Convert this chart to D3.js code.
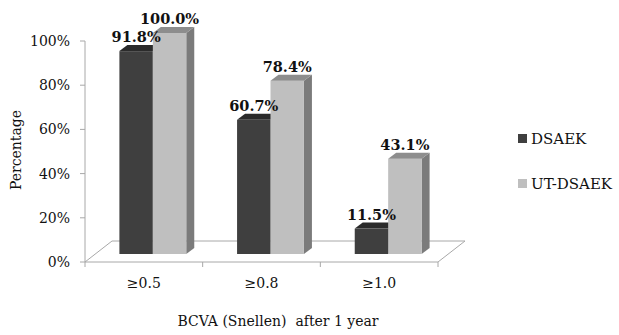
<!DOCTYPE html>
<html>
<head>
<meta charset="utf-8">
<script src="https://cdn.jsdelivr.net/npm/d3@7"></script>
<style>
  body { margin: 0; background: #fff; }
  svg text { font-family: "DejaVu Serif", serif; fill: #111; }
</style>
</head>
<body>
<svg id="chart" width="619" height="335"></svg>
<script>
const categories = ["≥0.5", "≥0.8", "≥1.0"];
const seriesNames = ["DSAEK", "UT-DSAEK"];
const dsaek = [91.8, 60.7, 11.5];
const utDsaek = [100.0, 78.4, 43.1];
const yTicks = [0, 20, 40, 60, 80, 100];

const svg = d3.select("#chart");

// plot frame
const plotLeft = 85, plotRight = 438, plotBottom = 262, plotTop = 41;
// floor depth and bar placement on the floor
const floorDx = 27, floorDy = -21;
const shiftX = 9, shiftY = -8;   // bars sit a bit back on the floor
const depthX = 8, depthY = -6;   // bar depth

const x0 = d3.scaleBand().domain(categories).range([plotLeft, plotRight]);
const x1 = d3.scaleBand().domain(seriesNames).range([0, x0.bandwidth()]).paddingOuter(0.76);
const y = d3.scaleLinear().domain([0, 100]).range([plotBottom, plotTop]);

const colors = {
  DSAEK: { front: "#3f3f3f", top: "#2b2b2b", side: "#242424" },
  "UT-DSAEK": { front: "#bfbfbf", top: "#8d8d8d", side: "#7b7b7b" }
};

// floor
svg.append("path")
  .attr("d", `M${plotLeft},${plotBottom} L${plotRight},${plotBottom} L${plotRight + floorDx},${plotBottom + floorDy} L${plotLeft + floorDx},${plotBottom + floorDy} Z`)
  .attr("fill", "#fff")
  .attr("stroke", "#a8a8a8")
  .attr("stroke-width", 1);

// y axis
const yAxis = svg.append("g");
yAxis.append("line")
  .attr("x1", plotLeft).attr("x2", plotLeft)
  .attr("y1", y(0)).attr("y2", y(100))
  .attr("stroke", "#a8a8a8");
yAxis.selectAll(".tick").data(yTicks).enter().append("line")
  .attr("x1", plotLeft - 5).attr("x2", plotLeft)
  .attr("y1", d => y(d)).attr("y2", d => y(d))
  .attr("stroke", "#a8a8a8");
yAxis.selectAll(".lbl").data(yTicks).enter().append("text")
  .attr("x", 70).attr("y", d => y(d))
  .attr("dy", "0.35em")
  .attr("text-anchor", "end")
  .style("font-size", "14px")
  .text(d => d + "%");

// x axis category ticks
const bounds = categories.map(c => x0(c)).concat([plotRight]);
svg.selectAll(".xt").data(bounds).enter().append("line")
  .attr("x1", d => d).attr("x2", d => d)
  .attr("y1", plotBottom).attr("y2", plotBottom + 5)
  .attr("stroke", "#a8a8a8");
svg.selectAll(".xl").data(categories).enter().append("text")
  .attr("x", d => x0(d) + x0.bandwidth() / 2)
  .attr("y", 283)
  .attr("dy", "0.35em")
  .attr("text-anchor", "middle")
  .style("font-size", "14px")
  .text(d => d);

// bars
const rows = [];
categories.forEach((c, i) => {
  rows.push({ cat: c, name: "DSAEK", value: dsaek[i] });
  rows.push({ cat: c, name: "UT-DSAEK", value: utDsaek[i] });
});

const bw = x1.bandwidth();
const barX = d => x0(d.cat) + x1(d.name) + shiftX;
const barTop = d => y(d.value) + shiftY;

const bars = svg.append("g").selectAll(".bar").data(rows).enter().append("g").attr("class", "bar");

bars.each(function (d) {
  const g = d3.select(this);
  const xa = barX(d);
  const xb = xa + bw;
  const yb = y(0) + shiftY;
  const yt = barTop(d);
  const c = colors[d.name];
  g.append("path")
    .attr("d", `M${xb},${yb} L${xb + depthX},${yb + depthY} L${xb + depthX},${yt + depthY} L${xb},${yt} Z`)
    .attr("fill", c.side);
  g.append("rect")
    .attr("x", xa).attr("y", yt)
    .attr("width", bw).attr("height", yb - yt)
    .attr("fill", c.front);
  g.append("path")
    .attr("d", `M${xa},${yt} L${xa + depthX},${yt + depthY} L${xb + depthX},${yt + depthY} L${xb},${yt} Z`)
    .attr("fill", c.top);
});

// value labels on top of everything
svg.append("g").selectAll("text").data(rows).enter().append("text")
  .attr("x", d => barX(d) + bw / 2)
  .attr("y", d => barTop(d) + depthY - 3)
  .attr("text-anchor", "middle")
  .style("font-size", "14.5px")
  .style("font-weight", "bold")
  .text(d => d.value.toFixed(1) + "%");

// axis titles
svg.append("text")
  .attr("transform", "translate(16,150) rotate(-90)")
  .attr("text-anchor", "middle")
  .attr("dy", "0.35em")
  .style("font-size", "14px")
  .text("Percentage");

svg.append("text")
  .attr("x", 278).attr("y", 321)
  .attr("text-anchor", "middle")
  .attr("dy", "0.35em")
  .style("font-size", "14px")
  .style("white-space", "pre")
  .text("BCVA (Snellen)  after 1 year");

// legend
const legend = svg.selectAll(".legend").data(seriesNames).enter().append("g")
  .attr("transform", (d, i) => `translate(518,${139 + i * 45})`);
legend.append("rect")
  .attr("x", 0).attr("y", -5).attr("width", 9).attr("height", 9)
  .attr("fill", d => colors[d].front);
legend.append("text")
  .attr("x", 13).attr("dy", "0.35em")
  .style("font-size", "15px")
  .text(d => d);
</script>
</body>
</html>
